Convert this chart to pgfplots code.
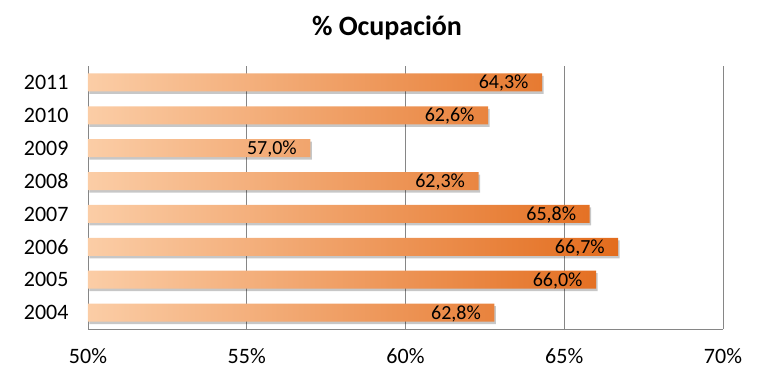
\documentclass[border=0pt]{standalone}
\usepackage{pgfplots}
\pgfplotsset{compat=1.18}
\usepackage{fontspec}
\setmainfont{Carlito}
\definecolor{barL}{HTML}{FBCDA6}
\definecolor{barR}{HTML}{E36C1D}
\definecolor{gridc}{HTML}{868686}
\begin{document}
\begin{tikzpicture}
\begin{axis}[
  name=ax,
  scale only axis,
  width=635pt, height=263pt,
  xmin=50, xmax=70,
  ymin=-0.5, ymax=7.5,
  xtick={50,55,60,65,70},
  xticklabels={50\%,55\%,60\%,65\%,70\%},
  ytick={0,1,2,3,4,5,6,7},
  yticklabels={2004,2005,2006,2007,2008,2009,2010,2011},
  major tick length=0pt,
  axis x line*=bottom,
  axis y line*=left,
  axis line style={gridc, line width=0.8pt, -},
  xmajorgrids,
  grid style={gridc, line width=0.8pt},
  x tick label style={font=\fontsize{22}{25}\selectfont, yshift=-16pt},
  y tick label style={font=\fontsize{22}{25}\selectfont, xshift=-16pt},
  /pgf/number format/assume math mode=true,
  clip=false,
]
\addplot[xbar, bar width=18pt, bar shift=-2.5pt, draw=none, fill=black, fill opacity=0.22, xshift=1.5pt, forget plot] coordinates {
  (62.8,0) (66.0,1) (66.7,2) (65.8,3) (62.3,4) (57.0,5) (62.6,6) (64.3,7)
};
\addplot[xbar, bar width=18pt, bar shift=0pt, draw=none, left color=barL, right color=barR,
  point meta=x,
  nodes near coords={\pgfmathprintnumber[fixed, fixed zerofill, precision=1, use comma]{\pgfplotspointmeta}\%},
  every node near coord/.append style={anchor=east, font=\fontsize{20}{23}\selectfont, text=black, xshift=-10pt, yshift=-1pt},
] coordinates {
  (62.8,0) (66.0,1) (66.7,2) (65.8,3) (62.3,4) (57.0,5) (62.6,6) (64.3,7)
};
\coordinate (O) at (rel axis cs:0,0);
\end{axis}
\node[font=\fontsize{28}{32}\selectfont\bfseries] at ([shift={(299pt,301pt)}]O) {\% Ocupación};
\pgfresetboundingbox
\path (O) ++(-88pt,-45pt) rectangle ++(764pt,374pt);
\end{tikzpicture}
\end{document}
